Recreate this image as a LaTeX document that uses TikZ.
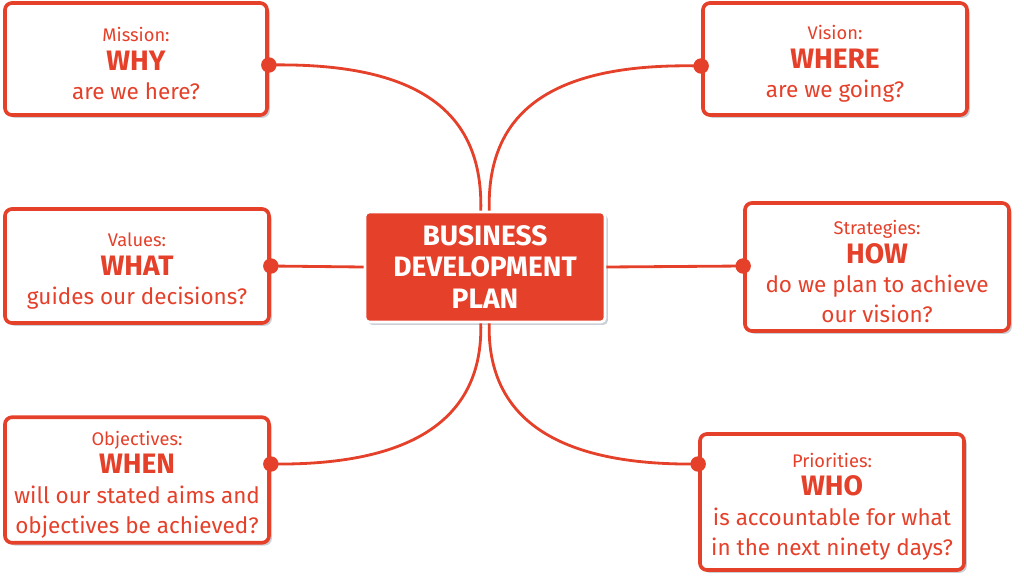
\documentclass[tikz,border=0pt]{standalone}
\usepackage{fontspec}
\setmainfont{Fira Sans}
\usetikzlibrary{positioning}
\usetikzlibrary{shadows}
\definecolor{planred}{HTML}{E5402A}
\definecolor{shadowgrey}{HTML}{8C97A6}
\newcommand{\qhead}[1]{{\fontsize{13}{15}\selectfont\rule{0pt}{16.5pt}#1}\\[-1pt]}
\newcommand{\qword}[1]{{\fontsize{20}{22}\selectfont\bfseries #1}\\[-0.8pt]}

\tikzset{
	qbox/.style={draw=planred, line width=2.6pt, rounded corners=5pt, fill=white,
		text=planred, align=center, font=\fontsize{16}{21.5}\selectfont,
		drop shadow={shadow xshift=2pt, shadow yshift=-2pt, opacity=0.45, fill=shadowgrey}},
	planbox/.style={draw=white, line width=2pt, rounded corners=3pt, fill=planred,
		text=white, align=center, font=\fontsize{20}{22.5}\selectfont\bfseries,
		drop shadow={shadow xshift=2pt, shadow yshift=-2pt, opacity=0.45, fill=shadowgrey}},
	link/.style={draw=planred, line width=2pt},
	dot/.style={circle, fill=planred, inner sep=0pt, minimum size=11pt}
}

\begin{document}
\begin{tikzpicture}[x=0.025cm, y=-0.025cm]
	\useasboundingbox (0,0) rectangle (1024,585);

	%% centre
	\node[planbox, minimum width=6cm, minimum height=2.75cm] (plan) at (485,267)
		{BUSINESS\\DEVELOPMENT\\PLAN};

	%% question boxes
	\node[qbox, minimum width=6.55cm, minimum height=2.8cm] (mission) at (136,59)
		{\qhead{Mission:}\qword{WHY}are we here?};
	\node[qbox, minimum width=6.6cm, minimum height=2.8cm] (vision) at (835,59)
		{\qhead{Vision:}\qword{WHERE}are we going?};
	\node[qbox, minimum width=6.6cm, minimum height=2.85cm] (values) at (137,266)
		{\qhead{Values:}\qword{WHAT}guides our decisions?};
	\node[qbox, minimum width=6.6cm, minimum height=3.2cm] (strategies) at (877,267)
		{\qhead{Strategies:}\qword{HOW}do we plan to achieve\\our vision?};
	\node[qbox, minimum width=6.6cm, minimum height=2.85cm] (objectives) at (137,480)
		{\qhead{Objectives:}\qword{WHEN}will our stated aims and\\objectives be achieved?};
	\node[qbox, minimum width=6.6cm, minimum height=3.4cm] (priorities) at (832,502)
		{\qhead{Priorities:}\qword{WHO}is accountable for what\\in the next ninety days?};

	%% dots on the box edges
	\node[dot] (mdot) at (mission.east |- 0,65) {};
	\node[dot] (vdot) at (vision.west |- 0,66) {};
	\node[dot] (wdot) at (values.east |- 0,266) {};
	\node[dot] (sdot) at (strategies.west |- 0,266) {};
	\node[dot] (odot) at (objectives.east |- 0,464) {};
	\node[dot] (pdot) at (priorities.west |- 0,464) {};

	%% links
	\draw[link] (mdot.center) .. controls (430,62) and (483,120) .. ([xshift=-3pt]plan.north);
	\draw[link] (vdot.center) .. controls (540,62) and (487,120) .. ([xshift=3pt]plan.north);
	\draw[link] (wdot.center) -- (plan.west);
	\draw[link] (sdot.center) -- (plan.east);
	\draw[link] (odot.center) .. controls (425,466) and (483,410) .. ([xshift=-3pt]plan.south);
	\draw[link] (pdot.center) .. controls (545,466) and (487,410) .. ([xshift=3pt]plan.south);
\end{tikzpicture}
\end{document}
